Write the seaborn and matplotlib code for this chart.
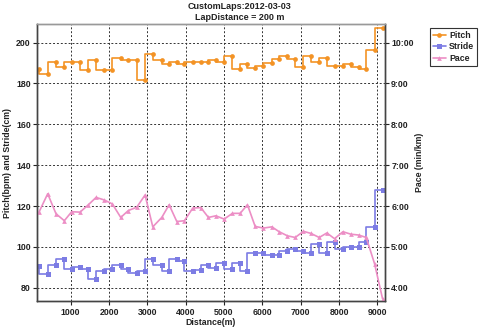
import matplotlib
matplotlib.use("Agg")
import matplotlib.pyplot as plt
from matplotlib.lines import Line2D
from matplotlib.ticker import FixedLocator, FuncFormatter
import pandas as pd
import seaborn as sns

# Lap end positions (m) and per-lap measurements
distance = [172, 399, 616, 833, 1025, 1243, 1460, 1661, 1869, 2087, 2305,
            2504, 2723, 2940, 3141, 3376, 3567, 3768, 3966, 4185, 4394, 4593,
            4786, 5003, 5219, 5420, 5611, 5812, 6029, 6248, 6439, 6655, 6856,
            7073, 7266, 7483, 7684, 7883, 8102, 8311, 8509, 8710, 8927, 9136]

pitch = [187.3, 184.4, 190.5, 188.1, 190.5, 190.5, 186.5, 191.5, 186.5, 186.5,
         192.7, 191.7, 191.7, 181.6, 194.3, 191.7, 189.3, 190.5, 189.6, 190.5,
         190.5, 190.5, 191.7, 190.5, 193.5, 187.3, 189.4, 187.6, 188.4, 190.0,
         192.2, 193.2, 192.2, 188.1, 193.5, 190.5, 192.5, 188.4, 188.6, 189.3,
         188.1, 187.3, 196.6, 207.3]

stride = [90.8, 86.9, 91.0, 94.1, 89.0, 90.0, 89.3, 84.1, 88.2, 89.0,
          91.0, 89.0, 87.1, 88.2, 94.1, 91.0, 88.2, 94.1, 93.1, 88.2,
          88.5, 91.0, 89.8, 92.0, 89.0, 92.0, 88.2, 97.1, 97.1, 95.9,
          95.9, 98.1, 98.9, 98.1, 97.1, 101.2, 97.1, 102.2, 98.9, 100.1,
          100.1, 102.2, 109.9, 127.8]

# pace in min/km
pace = [5.85, 6.30, 5.81, 5.64, 5.86, 5.85, 6.03, 6.21, 6.15, 6.05,
        5.72, 5.89, 5.97, 6.27, 5.49, 5.72, 6.03, 5.62, 5.64, 5.95,
        5.96, 5.72, 5.76, 5.68, 5.82, 5.82, 6.03, 5.50, 5.46, 5.49,
        5.37, 5.27, 5.23, 5.38, 5.33, 5.23, 5.34, 5.20, 5.37, 5.31,
        5.29, 5.23, 4.59, 3.73]

x_ticks = [1000, 2000, 3000, 4000, 5000, 6000, 7000, 8000, 9000]
left_ticks = [80, 100, 120, 140, 160, 180, 200]
pace_ticks = [4, 5, 6, 7, 8, 9, 10]

df = pd.DataFrame({"Distance": distance, "Pitch": pitch,
                   "Stride": stride, "Pace": pace})

sns.set_theme(style="white")
plt.rcParams["font.family"] = ["Liberation Sans", "DejaVu Sans"]

PITCH_C = "#F39325"
STRIDE_C = "#7C7CE4"
PACE_C = "#EC8EC5"
TXT = "#222222"
FS = 6.3

W, H = 480, 329
fig = plt.figure(figsize=(W / 100, H / 100), dpi=100)
L, R, T, B = 37, 385, 24, 301
ax = fig.add_axes([L / W, 1 - B / H, (R - L) / W, (B - T) / H])
ax2 = ax.twinx()

ylo, yhi = 73.5, 209.1
ax.set_xlim(120, 9200)
ax.set_ylim(ylo, yhi)
ax2.set_ylim(ylo / 20, yhi / 20)

common = dict(estimator=None, legend=False, markeredgewidth=0)
sns.lineplot(data=df, x="Distance", y="Pitch", ax=ax, color=PITCH_C,
             marker="o", markersize=3.4, linewidth=1.2,
             drawstyle="steps-pre", **common)
sns.lineplot(data=df, x="Distance", y="Stride", ax=ax, color=STRIDE_C,
             marker="s", markersize=3.6, linewidth=1.2,
             drawstyle="steps-pre", **common)
sns.lineplot(data=df, x="Distance", y="Pace", ax=ax2, color=PACE_C,
             marker="^", markersize=3.4, linewidth=1.2, **common)

# axes, ticks, grid
ax.xaxis.set_major_locator(FixedLocator(x_ticks))
ax.yaxis.set_major_locator(FixedLocator(left_ticks))
ax2.yaxis.set_major_locator(FixedLocator(pace_ticks))
ax2.yaxis.set_major_formatter(FuncFormatter(
    lambda v, p: f"{int(v)}:{int(round((v % 1) * 60)):02d}"))

ax.grid(True, color="#333333", linestyle=(0, (2, 2)), linewidth=0.7)
ax2.grid(False)
ax.set_axisbelow(True)

for a in (ax, ax2):
    a.tick_params(axis="both", direction="out", length=3, width=0.8,
                  labelsize=FS, colors=TXT, pad=1.5)
    for side in ("left", "right", "bottom"):
        a.spines[side].set_color("#444444")
        a.spines[side].set_linewidth(1.0)
    a.spines["top"].set_color("#999999")
    a.spines["top"].set_linewidth(1.0)
ax.tick_params(axis="x", pad=2, bottom=True)
ax.tick_params(axis="y", left=True, right=False)
ax2.tick_params(axis="y", right=True)
for lab in ax.get_xticklabels() + ax.get_yticklabels() + ax2.get_yticklabels():
    lab.set_fontweight("bold")

lab_kw = dict(fontsize=FS, fontweight="bold", color=TXT)
ax.set_xlabel("Distance(m)", **lab_kw)
ax.set_ylabel("Pitch(bpm) and Stride(cm)", **lab_kw)
ax2.set_ylabel("Pace (min/km)", **lab_kw)
ax.xaxis.set_label_coords(0.5, -0.062)
ax.yaxis.set_label_coords(-0.072, 0.5)
ax2.yaxis.set_label_coords(1.087, 0.5)

fig.text(0.5, 1 - 2 / H, "CustomLaps:2012-03-03\nLapDistance = 200 m",
         ha="center", va="top", fontsize=6.5, fontweight="bold",
         color=TXT, linespacing=1.3)

handles = [
    Line2D([], [], color=PITCH_C, marker="o", markersize=3.4, markeredgewidth=0, linewidth=1.2),
    Line2D([], [], color=STRIDE_C, marker="s", markersize=3.6, markeredgewidth=0, linewidth=1.2),
    Line2D([], [], color=PACE_C, marker="^", markersize=3.4, markeredgewidth=0, linewidth=1.2),
]
leg = fig.legend(handles, ["Pitch", "Stride", "Pace"],
                 loc="upper left", bbox_to_anchor=(430 / W, 1 - 28 / H),
                 fontsize=FS, frameon=True, fancybox=False, framealpha=1,
                 edgecolor="#333333", handlelength=1.5, handletextpad=0.4,
                 borderpad=0.3, labelspacing=0.3, borderaxespad=0)
leg.get_frame().set_linewidth(0.8)
for t in leg.get_texts():
    t.set_fontweight("bold")
    t.set_color(TXT)

fig.savefig("out.png", dpi=100, facecolor="white")
